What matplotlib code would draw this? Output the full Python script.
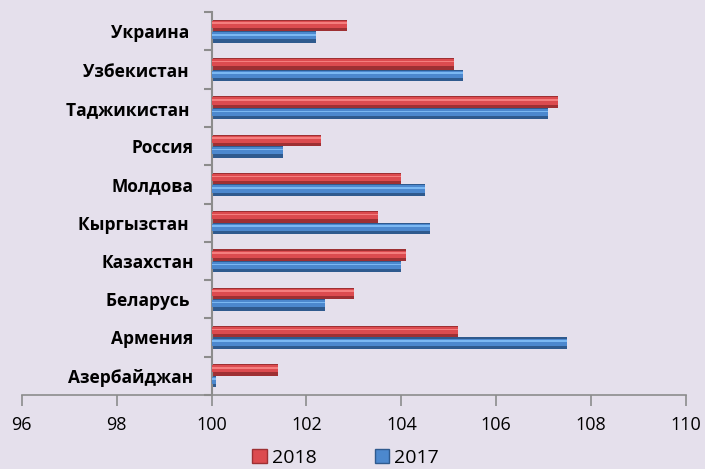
import matplotlib
matplotlib.use("Agg")
import matplotlib.pyplot as plt
import numpy as np
from matplotlib.patches import Patch

countries = ["Азербайджан", "Армения", "Беларусь ", "Казахстан", "Кыргызстан ",
             "Молдова", "Россия", "Таджикистан ", "Узбекистан ", "Украина "]
v2018 = [101.4, 105.2, 103.0, 104.1, 103.5, 104.0, 102.3, 107.3, 105.1, 102.85]
v2017 = [100.1, 107.5, 102.4, 104.0, 104.6, 104.5, 101.5, 107.1, 105.3, 102.2]
xticks = [96, 98, 100, 102, 104, 106, 108, 110]

bg = "#E5E0EC"
plt.rcParams["font.family"] = ["Open Sans", "DejaVu Sans"]

fig = plt.figure(figsize=(7.05, 4.69), dpi=100, facecolor=bg)
ax = fig.add_axes([0.031, 0.158, 0.942, 0.816], facecolor=bg)

y = np.arange(len(countries))
h = 0.3
base = 100

def bevel_bars(ypos, vals, dark, mid, light):
    w = np.array(vals) - base
    ax.barh(ypos, w, left=base, height=h, color=dark, linewidth=0, zorder=2)
    ax.barh(ypos + h * 0.1, w, left=base, height=h * 0.62, color=mid, linewidth=0, zorder=3)
    ax.barh(ypos + h * 0.2, w, left=base, height=h * 0.14, color=light, linewidth=0, zorder=4)

bevel_bars(y + h / 2, v2018, "#9E3033", "#DC4B4F", "#F47E7E")
bevel_bars(y - h / 2, v2017, "#2F5A8E", "#4C88CE", "#7BB8F2")

ax.set_xlim(96, 110)
ax.set_ylim(-0.5, len(countries) - 0.5)

for s in ["top", "right"]:
    ax.spines[s].set_visible(False)
ax.spines["left"].set_position(("data", base))
ax.spines["left"].set_color("#8C8C8C")
ax.spines["left"].set_linewidth(1.5)
ax.spines["bottom"].set_color("#8C8C8C")
ax.spines["bottom"].set_linewidth(1.2)

ax.set_xticks(xticks)
ax.set_xticklabels([str(t) for t in xticks], fontsize=13)
ax.tick_params(axis="x", length=8, width=1.2, color="#8C8C8C", pad=7)

ax.set_yticks(np.arange(len(countries) + 1) - 0.5)
ax.set_yticklabels([""] * (len(countries) + 1))
ax.tick_params(axis="y", which="major", length=6, width=1.5, color="#8C8C8C")
ax.set_yticks(y, minor=True)
ax.set_yticklabels(countries, minor=True, fontsize=12.5, fontweight="bold")
ax.tick_params(axis="y", which="minor", length=0, pad=13)

handles = [Patch(facecolor="#DC4B4F", edgecolor="#9E3033"),
           Patch(facecolor="#4C88CE", edgecolor="#2F5A8E")]
fig.legend(handles, ["2018", "2017"], loc="center", bbox_to_anchor=(0.49, 0.024),
           ncol=2, frameon=False, fontsize=14, handlelength=0.75, handleheight=0.75,
           handletextpad=0.25, columnspacing=3.0)

fig.savefig("out.png", dpi=100, facecolor=bg)
